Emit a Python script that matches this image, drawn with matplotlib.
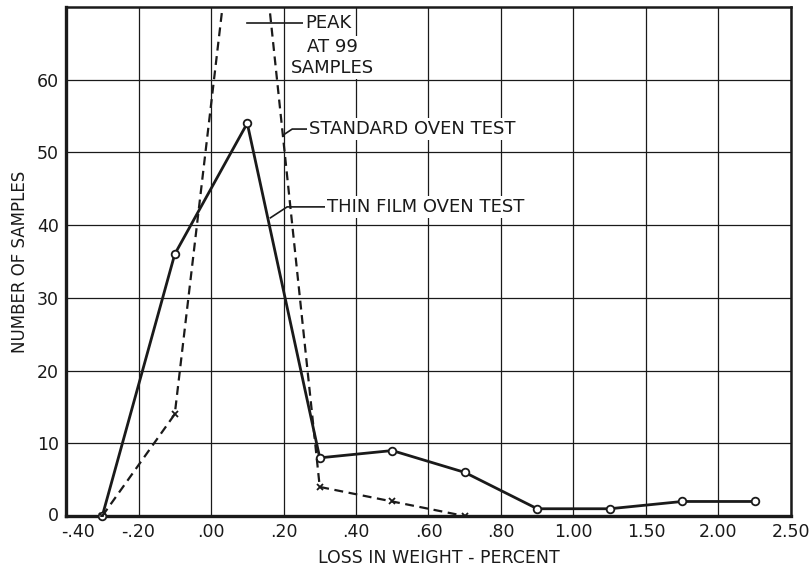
import matplotlib.pyplot as plt
from matplotlib.transforms import ScaledTranslation

# bin labels on the x axis (one per grid line)
x_labels = ['-.40', '-.20', '.00', '.20', '.40', '.60', '.80',
            '1.00', '1.50', '2.00', '2.50']

# points sit at bin midpoints (index positions between labels)
thin_x = [0.5, 1.5, 2.5, 3.5, 4.5, 5.5, 6.5, 7.5, 8.5, 9.5]
thin_y = [0, 36, 54, 8, 9, 6, 1, 1, 2, 2]

std_x = [0.5, 1.5, 2.5, 3.5, 4.5, 5.5]
std_y = [0, 14, 99, 4, 2, 0]

y_ticks = [0, 10, 20, 30, 40, 50, 60]

###############################################################################
ink = '#1a1a1a'
plt.rcParams['font.family'] = ['DejaVu Sans']

fig = plt.figure(figsize=(8.1, 5.67), dpi=100)
ax = fig.add_axes([0.0815, 0.0899, 0.895, 0.898])

ax.plot(thin_x, thin_y, color=ink, lw=2.0, marker='o', ms=5.5,
        mfc='white', mec=ink, mew=1.3, zorder=4, clip_on=False)
ax.plot(std_x, std_y, color=ink, lw=1.6, ls=(0, (4, 2.5)), marker='x',
        ms=5, mec=ink, mew=1.3, zorder=4)

ax.set_xlim(0, len(x_labels) - 1)
ax.set_ylim(0, 70)
ax.set_xticks(range(len(x_labels)))
ax.set_xticklabels(x_labels, fontsize=12.5, color=ink)
ax.set_yticks(y_ticks)
ax.set_yticklabels([str(v) for v in y_ticks], fontsize=12.5, color=ink)
ax.tick_params(axis='x', length=0, pad=5)
ax.tick_params(axis='y', length=0, pad=5)
ax.grid(True, color=ink, lw=0.9, zorder=1)
ax.set_axisbelow(True)

# corner labels: nudge apart so "0" and "-.40" sit side by side
first = ax.get_xticklabels()[0]
first.set_transform(first.get_transform() +
                    ScaledTranslation(12 / 100, 0, fig.dpi_scale_trans))
zero = ax.get_yticklabels()[0]
zero.set_transform(zero.get_transform() +
                   ScaledTranslation(0, 2 / 100, fig.dpi_scale_trans))

for side in ['left', 'bottom']:
    ax.spines[side].set_linewidth(2.4)
for side in ['top', 'right']:
    ax.spines[side].set_linewidth(1.8)
for s in ax.spines.values():
    s.set_color(ink)

ax.set_xlabel('LOSS IN WEIGHT - PERCENT', fontsize=12.5, color=ink,
              labelpad=6, x=0.515)
ax.set_ylabel('NUMBER OF SAMPLES', fontsize=12, color=ink, labelpad=6)

# annotations
box = dict(facecolor='white', edgecolor='none', pad=1.5)
ax.plot([2.5, 3.28], [67.8, 67.8], color=ink, lw=1.2, zorder=3)
ax.text(3.3, 67.8, 'PEAK', fontsize=13, color=ink, va='center',
        ha='left', bbox=box, zorder=3)
ax.text(3.67, 64.5, 'AT 99', fontsize=13, color=ink, va='center',
        ha='center', bbox=box, zorder=3)
ax.text(3.67, 61.6, 'SAMPLES', fontsize=13, color=ink, va='center',
        ha='center', bbox=box, zorder=3)

ax.plot([3.0, 3.12, 3.33], [52.4, 53.2, 53.2], color=ink, lw=1.2, zorder=3)
ax.text(3.35, 53.2, 'STANDARD OVEN TEST', fontsize=13, color=ink,
        va='center', ha='left', bbox=box, zorder=3)

ax.plot([2.82, 3.05, 3.58], [41.0, 42.5, 42.5], color=ink, lw=1.2, zorder=3)
ax.text(3.6, 42.5, 'THIN FILM OVEN TEST', fontsize=13, color=ink,
        va='center', ha='left', bbox=box, zorder=3)

fig.savefig('out.png', dpi=100)
